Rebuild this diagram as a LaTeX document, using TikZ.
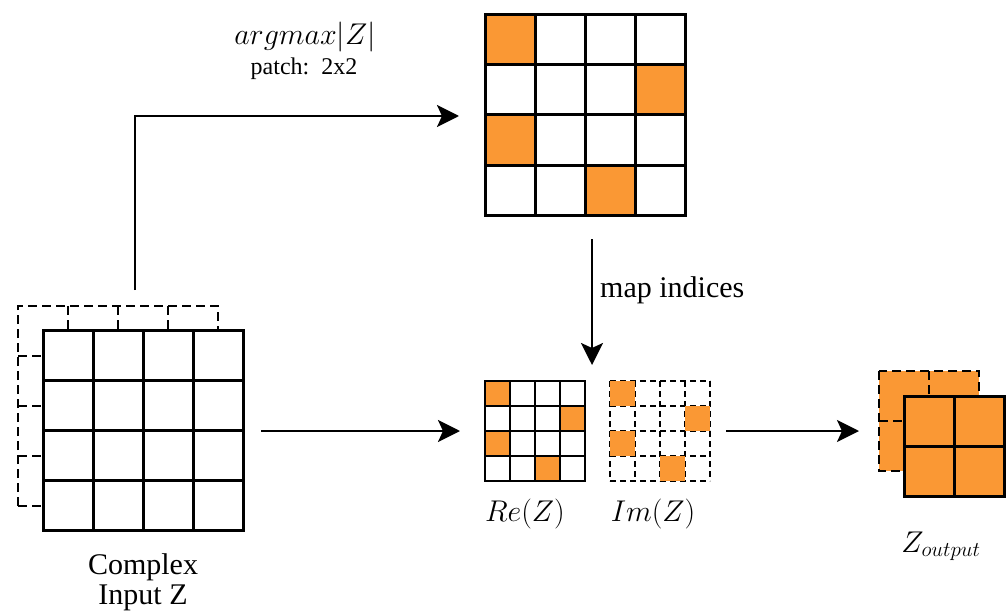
\RequirePackage{fix-cm}
\documentclass[tikz,border=0pt]{standalone}
\usepackage{fontspec}
\setmainfont{Liberation Serif}
\usetikzlibrary{arrows.meta}
\definecolor{cellorange}{RGB}{250,152,52}
\tikzset{
  gridline/.style={line width=3pt, draw=black, line cap=rect},
  dashgrid/.style={line width=2.8pt, draw=black, dash pattern=on 9pt off 5pt},
  smalldash/.style={line width=2.4pt, draw=black, dash pattern=on 6pt off 4pt},
  orangecell/.style={fill=cellorange, draw=none},
  flow/.style={line width=2.5pt, draw=black, -{Stealth[length=22pt,width=22pt,inset=5pt]}},
  lbl/.style={font=\fontsize{30}{30}\selectfont, inner sep=0pt, anchor=base},
  smalllbl/.style={font=\fontsize{24}{24}\selectfont, inner sep=0pt, anchor=base},
}
\begin{document}
\begin{tikzpicture}[x=1pt,y=-1pt]
\useasboundingbox (0,0) rectangle (1006,615);

% ---------- input: back dashed layer ----------
\draw[dashgrid] (18,506) -- (18,306) -- (218,306) -- (218,330);
\foreach \xx in {68,118,168} {\draw[dashgrid] (\xx,306) -- (\xx,330);}
\foreach \yy in {356,406,456,506} {\draw[dashgrid] (18,\yy) -- (43,\yy);}
% ---------- input: front grid ----------
\fill[white] (43,330) rectangle (243,530);
\foreach \i in {0,...,4} {
  \draw[gridline] (43+50*\i,330) -- ++(0,200);
  \draw[gridline] (43,330+50*\i) -- ++(200,0);
}

% ---------- top grid (argmax) ----------
\foreach \c/\r in {0/0,3/1,0/2,2/3} {\fill[orangecell] (485+50*\c,15+50*\r) rectangle ++(50,50);}
\foreach \i in {0,...,4} {
  \draw[gridline] (485+50*\i,15) -- ++(0,200);
  \draw[gridline] (485,15+50*\i) -- ++(200,0);
}

% ---------- Re(Z) grid ----------
\foreach \c/\r in {0/0,3/1,0/2,2/3} {\fill[orangecell] (485+25*\c,381+25*\r) rectangle ++(25,25);}
\foreach \i in {0,...,4} {
  \draw[gridline, line width=2.6pt] (485+25*\i,381) -- ++(0,100);
  \draw[gridline, line width=2.6pt] (485,381+25*\i) -- ++(100,0);
}

% ---------- Im(Z) grid ----------
\foreach \i in {0,...,4} {
  \draw[smalldash] (610+25*\i,381) -- ++(0,100);
  \draw[smalldash] (610,381+25*\i) -- ++(100,0);
}
\foreach \c/\r in {0/0,3/1,0/2,2/3} {\fill[orangecell] (610+25*\c,381+25*\r) rectangle ++(25,25);}

% ---------- output ----------
\filldraw[fill=cellorange, dashgrid] (879,371) rectangle (979,471);
\draw[dashgrid] (929,371) -- (929,396);
\draw[dashgrid] (879,421) -- (904,421);
\filldraw[fill=cellorange, gridline] (904,396) rectangle (1004,496);
\draw[gridline] (954,396) -- (954,496);
\draw[gridline] (904,446) -- (1004,446);

% ---------- labels ----------
\node[lbl] (argmaxlbl) at (305,45) {$argmax|Z|$};
\node[smalllbl] (patchlbl) at (304,75) {patch:\ \ 2x2};
\node[lbl, anchor=base west] (maplbl) at (600,297) {map indices};
\node[lbl] (complexlbl) at (143,574) {Complex};
\node[lbl] (inputlbl) at (143,604) {Input Z};
\node[lbl] (relbl) at (525,521) {$Re(Z)$};
\node[lbl] (imlbl) at (653,521) {$Im(Z)$};
\node[lbl] (outlbl) at (941,552) {$Z_{output}$};

% ---------- connectors ----------
\coordinate (bendS) at (135,290);
\coordinate (bendE) at (459,116);
\coordinate (downS) at (592,239);
\coordinate (downE) at (592,365);
\coordinate (midS) at (261,431);
\coordinate (midE) at (460,431);
\coordinate (rightS) at (726,431);
\coordinate (rightE) at (859,431);
\draw[flow] (bendS) |- (bendE);
\draw[flow] (downS) -- (downE);
\draw[flow] (midS) -- (midE);
\draw[flow] (rightS) -- (rightE);
\end{tikzpicture}
\end{document}
